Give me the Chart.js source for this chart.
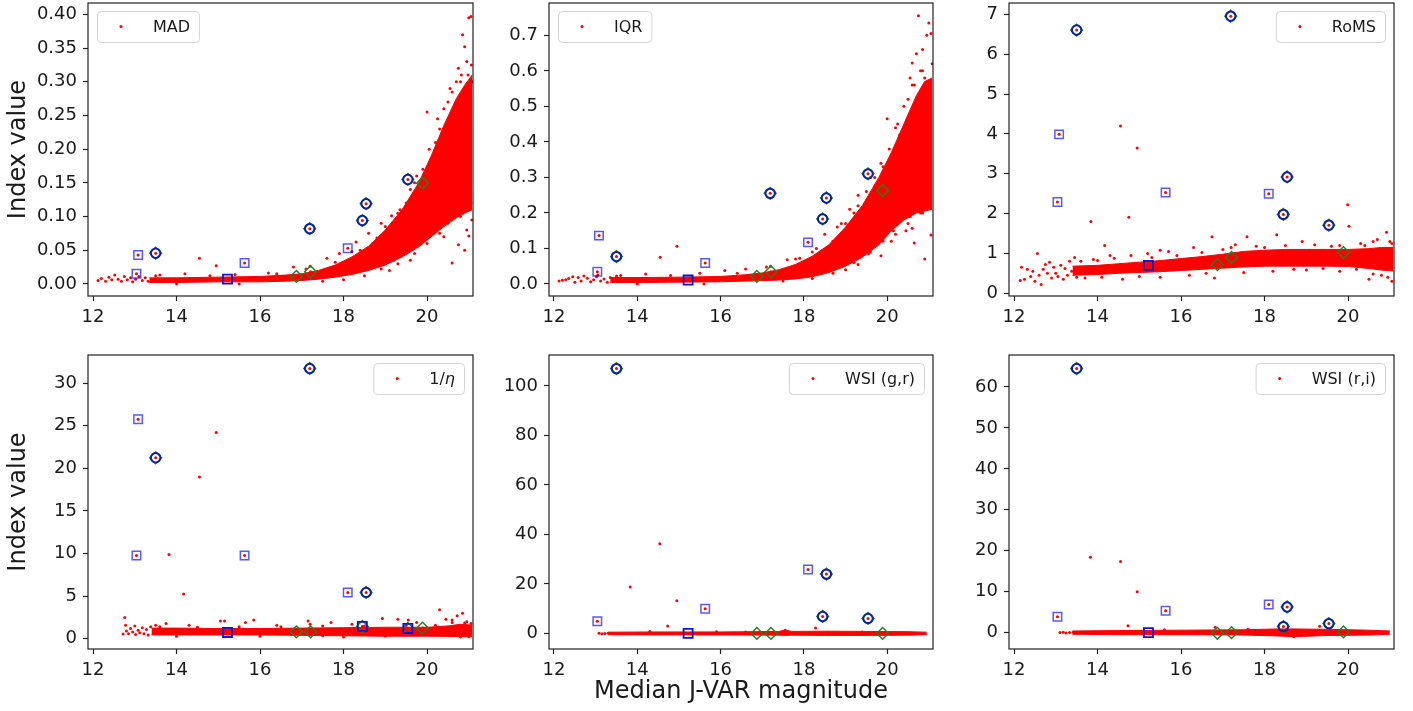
<!DOCTYPE html>
<html>
<head>
<meta charset="utf-8">
<script src="https://cdn.jsdelivr.net/npm/chart.js@4.4.0/dist/chart.umd.min.js"></script>
<style>
  body { margin: 0; background: #fff; width: 1413px; height: 711px; position: relative; overflow: hidden; }
  canvas { position: absolute; }
</style>
</head>
<body>
<script>
// x axis (median J-VAR magnitude), shared by every panel
const xTicks = [12, 14, 16, 18, 20];

// flagged objects: same magnitudes in every panel
// 0,1 sq | 2 circ | 3 dark sq | 4 sq | 5 dia | 6 circ | 7 dia | 8 sq | 9,10,11 circ | 12 dia
const markX = [13.04, 13.08, 13.50, 15.22, 15.63, 16.87, 17.19, 17.21, 18.10, 18.45, 18.54, 19.54, 19.89];

const madMarkY  = [0.0149, 0.043, 0.0455, 0.007, 0.031, 0.011, 0.082, 0.018, 0.053, 0.094, 0.119, 0.155, 0.1495];
const iqrMarkY  = [0.034, 0.136, 0.077, 0.011, 0.059, 0.021, 0.255, 0.034, 0.117, 0.183, 0.242, 0.310, 0.263];
const romsMarkY = [2.29, 3.99, 6.61, 0.70, 2.53, 0.72, 6.96, 0.90, 2.50, 1.98, 2.92, 1.71, 1.02];
const etaMarkY  = [9.78, 25.77, 21.24, 0.74, 9.78, 0.82, 31.72, 0.82, 5.44, 1.45, 5.44, 1.21, 1.25];
const wgrMarkY  = [4.9, null, 107.0, 0, 9.96, 0, null, 0, 25.8, 6.86, 23.96, 6.06, 0];
const wriMarkY  = [3.9, null, 64.5, 0, 5.37, -0.16, null, 0, 6.84, 1.47, 6.27, 2.2, 0.16];

// dense part of the red cloud: lower / upper edge
const riseBandX = [13.35, 14.0, 15.0, 16.0, 16.6, 17.0, 17.4, 17.8, 18.2, 18.6, 19.0, 19.4, 19.8, 20.1, 20.4, 20.7, 20.9, 21.08];
const madBandLo = [0.002, 0.002, 0.003, 0.003, 0.004, 0.005, 0.007, 0.010, 0.014, 0.020, 0.028, 0.040, 0.055, 0.070, 0.085, 0.098, 0.105, 0.110];
const madBandHi = [0.009, 0.009, 0.010, 0.011, 0.013, 0.015, 0.020, 0.028, 0.040, 0.056, 0.080, 0.110, 0.150, 0.190, 0.235, 0.275, 0.295, 0.310];
const iqrBandLo = [0.004, 0.004, 0.005, 0.006, 0.008, 0.009, 0.011, 0.014, 0.020, 0.032, 0.050, 0.075, 0.110, 0.150, 0.180, 0.200, 0.205, 0.210];
const iqrBandHi = [0.018, 0.018, 0.019, 0.021, 0.026, 0.031, 0.040, 0.055, 0.078, 0.110, 0.160, 0.220, 0.300, 0.370, 0.450, 0.530, 0.570, 0.580];

const romsBandX  = [13.4, 14.0, 14.5, 15.0, 15.5, 16.0, 16.5, 17.0, 17.5, 18.0, 18.5, 19.0, 19.5, 20.0, 20.5, 20.8, 21.08];
const romsBandLo = [0.45, 0.47, 0.50, 0.52, 0.54, 0.57, 0.60, 0.63, 0.66, 0.68, 0.68, 0.68, 0.68, 0.67, 0.62, 0.58, 0.56];
const romsBandHi = [0.68, 0.70, 0.74, 0.78, 0.82, 0.87, 0.92, 0.98, 1.05, 1.08, 1.10, 1.10, 1.10, 1.10, 1.12, 1.15, 1.15];

const etaBandX  = [13.4, 14.0, 15.0, 16.0, 17.0, 18.0, 19.0, 20.0, 20.5, 20.8, 21.08];
const etaBandLo = [0.45, 0.45, 0.45, 0.45, 0.40, 0.35, 0.30, 0.30, 0.28, 0.25, 0.25];
const etaBandHi = [1.25, 1.25, 1.20, 1.20, 1.25, 1.30, 1.35, 1.35, 1.50, 1.70, 1.60];

const wgrBandX  = [13.3, 14.5, 16.0, 17.4, 17.55, 17.7, 18.5, 19.5, 20.5, 20.95];
const wgrBandLo = [-0.5, -0.6, -0.6, -0.7, -0.8, -0.7, -0.8, -0.8, -0.7, -0.5];
const wgrBandHi = [0.5, 0.6, 0.6, 0.8, 1.4, 0.8, 0.9, 0.8, 0.7, 0.5];

const wriBandX  = [13.4, 14.5, 16.0, 17.5, 18.3, 18.7, 19.5, 20.5, 21.0];
const wriBandLo = [-0.4, -0.5, -0.5, -0.6, -0.8, -1.0, -0.7, -0.6, -0.4];
const wriBandHi = [0.4, 0.5, 0.6, 0.7, 0.9, 0.9, 0.8, 0.6, 0.4];

// sparse red points outside the dense part [x, y]
const madDots = [[12.12,0.005],[12.2,0.008],[12.3,0.004],[12.38,0.010],[12.45,0.006],[12.52,0.013],[12.6,0.007],[12.68,0.004],
  [12.75,0.011],[12.82,0.006],[12.9,0.009],[12.95,0.003],[13.02,0.007],[13.1,0.011],[13.18,0.005],[13.25,0.009],[13.32,0.004],
  [13.6,0.013],[14.2,0.015],[14.55,0.038],[14.95,0.027],[15.4,0.014],[16.2,0.016],[16.8,0.025],[17.1,0.022],[17.6,0.038],
  [17.9,0.045],[18.3,0.062],[18.6,0.075],[18.9,0.09],[19.15,0.101],[19.35,0.11],[19.6,0.14],[19.75,0.16],[20.0,0.255],
  [20.2,0.21],[20.4,0.26],[20.55,0.29],[20.7,0.3],[20.75,0.32],[20.82,0.31],[20.85,0.37],[20.9,0.352],[20.92,0.28],
  [20.95,0.33],[21.0,0.395],[21.05,0.397],[21.06,0.325],[21.08,0.3],[20.98,0.31],[17.5,0.004],[18.0,0.006],[18.5,0.012],
  [18.9,0.022],[19.3,0.03],[19.7,0.045],[20.0,0.06],[20.3,0.075],[20.6,0.031],[20.75,0.058],[20.9,0.05],[21.0,0.071],
  [20.5,0.09],[20.8,0.1],[21.05,0.12],[21.07,0.095],[13.5,0.012],[14.0,0.0],[14.8,0.012],[15.5,0.0],[16.4,0.015],
  [17.2,0.026],[17.8,0.032],[18.2,0.048],[18.8,0.068],[19.2,0.09],[19.5,0.12],[19.9,0.17],[20.2,0.20],[20.3,0.23],
  [20.5,0.27],[20.6,0.25],[19.6,0.035],[19.1,0.02],[20.4,0.07],[20.95,0.08],[19.0,0.085],[19.3,0.105],[19.7,0.15],
  [20.05,0.2],[20.25,0.245],[20.6,0.285],[20.8,0.3],[19.2,0.035],[19.55,0.048],[19.9,0.062],[20.15,0.08],[20.55,0.1],
  [20.85,0.105],[18.7,0.06],[18.4,0.05]];
const iqrDots = [[12.12,0.008],[12.2,0.01],[12.28,0.012],[12.35,0.015],[12.45,0.02],[12.5,0.005],[12.58,0.018],[12.65,0.008],
  [12.72,0.022],[12.8,0.016],[12.88,0.006],[12.95,0.012],[13.02,0.02],[13.05,0.025],[13.12,0.008],[13.2,0.014],[13.28,0.005],
  [13.35,0.018],[13.6,0.024],[14.2,0.028],[14.55,0.075],[14.95,0.106],[15.5,0.03],[16.1,0.038],[16.6,0.042],[17.1,0.048],
  [17.6,0.068],[17.9,0.072],[18.2,0.09],[18.5,0.14],[18.8,0.16],[19.1,0.21],[19.3,0.25],[19.6,0.3],[19.85,0.34],[20.0,0.465],
  [20.2,0.44],[20.4,0.5],[20.55,0.58],[20.6,0.622],[20.7,0.648],[20.75,0.755],[20.8,0.6],[20.85,0.66],[20.95,0.70],
  [21.0,0.735],[21.05,0.705],[21.08,0.62],[20.9,0.58],[17.5,0.008],[18.2,0.015],[18.7,0.03],[19.3,0.055],[19.85,0.079],
  [20.2,0.14],[20.5,0.17],[20.6,0.157],[20.65,0.115],[20.9,0.07],[21.05,0.138],[20.8,0.2],[21.0,0.22],[13.5,0.022],
  [14.0,0.0],[14.8,0.024],[15.6,0.0],[16.4,0.03],[17.2,0.05],[17.8,0.07],[18.3,0.1],[18.9,0.17],[19.2,0.2],[19.5,0.26],
  [19.9,0.33],[20.3,0.42],[20.5,0.52],[20.6,0.56],[19.0,0.04],[19.6,0.09],[20.1,0.12],[20.45,0.15],[19.0,0.17],[19.3,0.22],
  [19.7,0.3],[20.05,0.38],[20.25,0.45],[20.65,0.56],[20.85,0.6],[19.2,0.06],[19.55,0.085],[19.9,0.12],[20.15,0.15],
  [20.55,0.19],[20.85,0.2],[18.7,0.12],[18.4,0.09]];
const romsDots = [[12.15,0.32],[12.18,0.65],[12.25,0.35],[12.32,0.6],[12.4,0.42],[12.45,0.55],[12.5,0.3],[12.56,1.0],
  [12.6,0.45],[12.65,0.22],[12.7,0.6],[12.75,0.72],[12.8,0.5],[12.85,0.78],[12.9,0.38],[12.95,0.65],[13.0,0.5],[13.05,0.42],
  [13.12,0.7],[13.18,0.35],[13.22,0.62],[13.28,0.45],[13.33,0.8],[13.38,0.55],[13.45,0.9],[13.5,0.4],[13.84,1.8],[14.17,1.2],
  [14.55,4.2],[14.75,1.91],[14.95,3.65],[15.5,1.08],[15.7,1.05],[16.3,1.15],[16.74,1.42],[17.3,1.22],[17.58,1.42],[18.29,1.47],
  [18.9,1.3],[19.99,2.22],[20.02,1.68],[20.92,1.53],[20.7,1.35],[21.0,1.3],[14.3,0.95],[14.8,0.95],[13.9,0.85],[15.2,1.0],
  [13.7,0.38],[14.1,0.4],[14.6,0.35],[15.0,0.42],[15.5,0.4],[16.2,0.45],[16.8,0.38],[17.5,0.52],[18.2,0.55],[19.0,0.58],
  [19.8,0.55],[20.5,0.35],[20.8,0.45],[21.05,0.3],[20.95,0.4],[20.6,0.48],[16.5,1.02],[17.0,1.1],[17.8,1.18],[18.5,1.2],
  [19.2,1.22],[19.8,1.2],[20.3,1.25],[20.6,1.3],[13.6,0.8],[14.0,0.82],[14.4,0.88],[15.3,0.9],[15.9,0.95],[16.6,0.5],
  [17.2,1.15],[18.0,1.15],[18.7,0.6],[19.4,0.62],[19.6,1.18],[20.2,0.6],[20.4,1.2],[21.05,1.25]];
const etaDots = [[12.72,0.55],[12.76,2.5],[12.78,1.6],[12.8,0.9],[12.85,0.6],[12.9,1.2],[12.95,0.8],[13.0,1.5],[13.02,0.5],
  [13.08,1.0],[13.12,0.7],[13.18,1.3],[13.22,0.6],[13.28,1.1],[13.32,0.45],[13.38,1.4],[13.45,0.8],[13.5,1.6],[13.82,9.89],
  [14.17,5.24],[14.55,18.97],[14.95,24.2],[20.3,3.4],[20.85,3.0],[18.93,2.39],[20.72,2.7],[20.6,2.2],[13.75,1.8],[14.3,1.6],
  [15.05,2.1],[15.15,2.1],[15.65,1.9],[15.85,2.2],[17.15,2.1],[17.2,1.7],[17.7,1.9],[19.3,2.3],[19.55,2.2],[19.75,1.9],
  [20.45,2.3],[20.95,2.0],[21.05,1.8],[16.4,1.6],[18.2,1.7],[20.8,0.2],[21.0,0.25],[19.0,0.3],[17.5,0.35],[13.6,1.4],
  [14.5,1.35],[15.5,1.4],[16.5,1.4],[17.5,1.5],[18.5,1.5],[19.5,1.55],[20.2,1.6],[20.6,1.9],[20.9,1.85],[14.0,0.3],
  [16.0,0.3],[18.0,0.2]];
const wgrDots = [[13.08,0.1],[13.15,-0.1],[13.22,0.0],[13.3,0.1],[13.38,-0.05],[13.45,0.0],[13.83,18.8],[14.54,36.2],
  [14.95,13.2],[14.73,2.96],[18.28,2.15],[14.3,0.8],[15.9,0.7],[17.55,1.3],[16.6,0.6],[19.4,0.6]];
const wriDots = [[13.1,0.0],[13.18,0.1],[13.25,-0.1],[13.33,0.0],[13.42,0.1],[13.5,0.0],[13.83,18.4],[14.55,17.35],
  [14.95,10.0],[14.73,1.7],[16.82,1.3],[19.32,1.55],[15.6,0.7],[17.6,0.8],[18.7,-1.0]];

// y ticks
const madTicks = [0, 0.05, 0.10, 0.15, 0.20, 0.25, 0.30, 0.35, 0.40];
const madTickLabels = ['0.00', '0.05', '0.10', '0.15', '0.20', '0.25', '0.30', '0.35', '0.40'];
const iqrTicks = [0, 0.1, 0.2, 0.3, 0.4, 0.5, 0.6, 0.7];
const iqrTickLabels = ['0.0', '0.1', '0.2', '0.3', '0.4', '0.5', '0.6', '0.7'];
const romsTicks = [0, 1, 2, 3, 4, 5, 6, 7];
const etaTicks = [0, 5, 10, 15, 20, 25, 30];
const wgrTicks = [0, 20, 40, 60, 80, 100];
const wriTicks = [0, 10, 20, 30, 40, 50, 60];

Chart.defaults.font.family = '"DejaVu Sans", sans-serif';
Chart.defaults.color = '#1a1a1a';

const SQ = [0, 1, 4, 8];
const DIA = [2, 5, 6, 7, 9, 10, 11, 12];

const panels = [
  { name: 'MAD', y: madMarkY, bandX: riseBandX, lo: madBandLo, hi: madBandHi, dots: madDots,
    ticks: madTicks, labels: madTickLabels, min: -0.018, max: 0.417, circ: [2, 6, 9, 10, 11], dark: [3],
    box: [0, 0, 478, 340], yW: 88, pad: [3, 5], xH: 44, side: 'left', yTitle: true },
  { name: 'IQR', y: iqrMarkY, bandX: riseBandX, lo: iqrBandLo, hi: iqrBandHi, dots: iqrDots,
    ticks: iqrTicks, labels: iqrTickLabels, min: -0.034, max: 0.791, circ: [2, 6, 9, 10, 11], dark: [3],
    box: [478, 0, 460, 340], yW: 71, pad: [3, 5], xH: 44, side: 'left' },
  { name: 'RoMS', y: romsMarkY, bandX: romsBandX, lo: romsBandLo, hi: romsBandHi, dots: romsDots,
    ticks: romsTicks, labels: romsTicks.map(String), min: -0.07, max: 7.29, circ: [2, 6, 9, 10, 11], dark: [3],
    box: [938, 0, 475, 340], yW: 71, pad: [3, 19], xH: 44, side: 'right' },
  { name: '1/', nameIt: 'η', y: etaMarkY, bandX: etaBandX, lo: etaBandLo, hi: etaBandHi, dots: etaDots,
    ticks: etaTicks, labels: etaTicks.map(String), min: -1.2, max: 33.3, circ: [2, 6, 10], dark: [3, 9, 11],
    box: [0, 340, 478, 371], yW: 88, pad: [15, 5], xH: 62, side: 'right', yTitle: true },
  { name: 'WSI (g,r)', y: wgrMarkY, bandX: wgrBandX, lo: wgrBandLo, hi: wgrBandHi, dots: wgrDots,
    ticks: wgrTicks, labels: wgrTicks.map(String), min: -6.3, max: 112.5, circ: [2, 6, 9, 10, 11], dark: [3],
    box: [478, 340, 460, 371], yW: 71, pad: [15, 5], xH: 62, side: 'right', xTitle: true },
  { name: 'WSI (r,i)', y: wriMarkY, bandX: wriBandX, lo: wriBandLo, hi: wriBandHi, dots: wriDots,
    ticks: wriTicks, labels: wriTicks.map(String), min: -4.0, max: 67.8, circ: [2, 6, 9, 10, 11], dark: [3],
    box: [938, 340, 475, 371], yW: 71, pad: [15, 19], xH: 62, side: 'right' }
];

// axes box on all four sides, like matplotlib spines
const frame = {
  id: 'frame',
  afterDatasetsDraw(chart) {
    const { ctx, chartArea: a } = chart;
    ctx.save();
    ctx.strokeStyle = '#222';
    ctx.lineWidth = 1.2;
    ctx.strokeRect(a.left, a.top, a.right - a.left, a.bottom - a.top);
    ctx.restore();
  }
};

// legend inside the axes with a rounded frame
const legendBox = {
  id: 'legendBox',
  afterDraw(chart, args, o) {
    const { ctx, chartArea: a } = chart;
    ctx.save();
    const parts = [{ t: o.text, it: false }];
    if (o.textIt) parts.push({ t: o.textIt, it: true });
    let tw = 0;
    parts.forEach(p => {
      ctx.font = (p.it ? 'italic ' : '') + '16px "DejaVu Sans"';
      p.w = ctx.measureText(p.t).width;
      tw += p.w;
    });
    const w = 56 + tw + 9, h = 31;
    const x = o.side === 'left' ? a.left + 9 : a.right - 9 - w;
    const y = a.top + 8;
    ctx.beginPath();
    if (ctx.roundRect) ctx.roundRect(x + 0.5, y + 0.5, w, h, 4); else ctx.rect(x + 0.5, y + 0.5, w, h);
    ctx.fillStyle = 'rgba(255,255,255,0.8)';
    ctx.fill();
    ctx.strokeStyle = '#d4d4d4';
    ctx.lineWidth = 1;
    ctx.stroke();
    ctx.beginPath();
    ctx.arc(x + 24, y + h / 2, 1.5, 0, Math.PI * 2);
    ctx.fillStyle = 'red';
    ctx.fill();
    ctx.fillStyle = '#1a1a1a';
    ctx.textBaseline = 'middle';
    let tx = x + 56;
    parts.forEach(p => {
      ctx.font = (p.it ? 'italic ' : '') + '16px "DejaVu Sans"';
      ctx.fillText(p.t, tx, y + h / 2 + 1);
      tx += p.w;
    });
    ctx.restore();
  }
};

function pick(ys, idx) {
  return idx.filter(i => ys[i] !== null).map(i => ({ x: markX[i], y: ys[i] }));
}

function noPad(s) {
  s.paddingTop = 0; s.paddingBottom = 0; s.paddingLeft = 0; s.paddingRight = 0;
}

panels.forEach((p, k) => {
  const cv = document.createElement('canvas');
  cv.width = p.box[2];
  cv.height = p.box[3];
  cv.style.left = p.box[0] + 'px';
  cv.style.top = p.box[1] + 'px';
  document.body.appendChild(cv);

  const allIdx = markX.map((_, i) => i);
  const redPts = p.dots.map(d => ({ x: d[0], y: d[1] })).concat(pick(p.y, allIdx));

  const tickFont = { size: 18 };
  new Chart(cv.getContext('2d'), {
    type: 'scatter',
    data: {
      datasets: [
        { type: 'line', data: p.bandX.map((x, i) => ({ x: x, y: p.lo[i] })), borderColor: 'red', borderWidth: 1,
          pointRadius: 0, fill: false, order: 10 },
        { type: 'line', data: p.bandX.map((x, i) => ({ x: x, y: p.hi[i] })), borderColor: 'red', borderWidth: 1,
          pointRadius: 0, fill: '-1', backgroundColor: 'red', order: 9 },
        { label: p.name, data: redPts, pointRadius: 1.5, backgroundColor: 'red', borderWidth: 0, order: 8 },
        { data: pick(p.y, DIA), pointStyle: 'rectRot', pointRadius: 5.9, borderColor: '#218021', borderWidth: 1.4,
          backgroundColor: 'rgba(0,0,0,0)', order: 4 },
        { data: pick(p.y, SQ), pointStyle: 'rect', pointRadius: 6, borderColor: 'rgba(0,0,255,0.65)', borderWidth: 1.5,
          backgroundColor: 'rgba(0,0,0,0)', order: 3 },
        { data: pick(p.y, p.dark), pointStyle: 'rect', pointRadius: 6.4, borderColor: '#0a14d8', borderWidth: 1.8,
          backgroundColor: 'rgba(0,0,0,0)', order: 2 },
        { data: pick(p.y, p.circ), pointStyle: 'circle', pointRadius: 4.7, borderColor: '#0a1fb0', borderWidth: 2,
          backgroundColor: 'rgba(0,0,0,0)', order: 1 }
      ]
    },
    options: {
      responsive: false,
      animation: false,
      devicePixelRatio: 1,
      layout: { autoPadding: false, padding: { top: p.pad[0], right: p.pad[1], left: 0, bottom: 0 } },
      plugins: {
        legend: { display: false },
        tooltip: { enabled: false },
        legendBox: { text: p.name, textIt: p.nameIt, side: p.side }
      },
      scales: {
        x: {
          type: 'linear', min: 11.88, max: 21.1,
          afterBuildTicks: s => { s.ticks = xTicks.map(v => ({ value: v })); },
          afterFit: s => { s.height = p.xH; noPad(s); },
          grid: { drawOnChartArea: false, drawTicks: true, tickLength: 5, tickColor: '#222', tickWidth: 1.2 },
          border: { display: false },
          ticks: { font: tickFont, color: '#1a1a1a', padding: 6, maxRotation: 0, callback: v => String(v) },
          title: { display: !!p.xTitle, text: 'Median J-VAR magnitude', font: { size: 24 }, color: '#1a1a1a',
                   padding: { top: 0, bottom: 5 } }
        },
        y: {
          type: 'linear', min: p.min, max: p.max,
          afterBuildTicks: s => { s.ticks = p.ticks.map(v => ({ value: v })); },
          afterFit: s => { s.width = p.yW; noPad(s); },
          grid: { drawOnChartArea: false, drawTicks: true, tickLength: 5, tickColor: '#222', tickWidth: 1.2 },
          border: { display: false },
          ticks: { font: tickFont, color: '#1a1a1a', padding: 6, callback: (v, i) => p.labels[i] },
          title: { display: !!p.yTitle, text: 'Index value', font: { size: 24 }, color: '#1a1a1a',
                   padding: { top: 4, bottom: 4 } }
        }
      }
    },
    plugins: [frame, legendBox]
  });
});
</script>
</body>
</html>
